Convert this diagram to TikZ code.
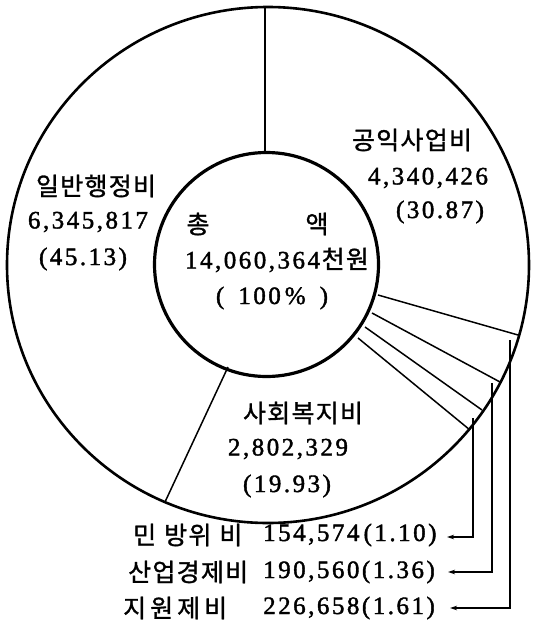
\documentclass[tikz,border=0pt]{standalone}
\usepackage{fontspec}
\setmainfont{Liberation Serif}
\newfontfamily\kr[LetterSpace=5,FakeBold=1.2]{Noto Sans CJK KR}
\newfontfamily\num[LetterSpace=10,FakeBold=1.6]{Liberation Serif}
\usetikzlibrary{arrows.meta}
\begin{document}
\begin{tikzpicture}[x=1pt,y=-1pt,
  seg/.style={line width=1.5pt},
  lead/.style={line width=1.5pt,-{Stealth[length=7pt,width=4.5pt]}},
  krt/.style={inner sep=0pt,font=\fontsize{25}{28}\selectfont\kr},
  numt/.style={inner sep=0pt,font=\fontsize{25}{28}\selectfont\num}]
\useasboundingbox (0,0) rectangle (534,632);
% circles
\draw[line width=2.6pt] (268,265) ellipse [x radius=261, y radius=258];
\draw[line width=3.2pt] (266.5,264.5) circle [radius=112];
% segment boundaries
\draw[seg] (265,7) -- (265,152.5);
\draw[seg] (378,295) -- (518,335);
\draw[seg] (372,313) -- (500,382);
\draw[seg] (365,327) -- (482,410);
\draw[seg] (358,338) -- (470,430);
\draw[seg] (228,367) -- (165,502);
% labels
\node[krt] (g1) at (412,140) {공익사업비};
\node[numt] (g2) at (428,178) {4,340,426};
\node[numt] (g3) at (440,212) {(30.87)};
\node[krt] (i1) at (96,186) {일반행정비};
\node[numt] (i2) at (88,222) {6,345,817};
\node[numt] (i3) at (83,259) {(45.13)};
\node[krt] (c1) at (198,224) {총};
\node[krt] (c2) at (317,224) {액};
\node[inner sep=0pt] (c3) at (277,260) {{\fontsize{25}{28}\selectfont\num 14,060,364}\,{\fontsize{25}{28}\selectfont\kr 천원}};
\node[numt] (c4) at (272,298) {(\hspace{14pt}100\hspace{4pt}\%\hspace{14pt})};
\node[krt] (s1) at (303,413) {사회복지비};
\node[numt] (s2) at (288,449) {2,802,329};
\node[numt] (s3) at (287,486) {(19.93)};
% bottom list
\node[krt,anchor=west] (m1) at (133,535) {민\hspace{8pt}방위\hspace{8pt}비};
\node[numt,anchor=west] (m2) at (263,535) {154,574\,(1.10)};
\node[krt,anchor=west] (n1) at (128,572) {산업경제비};
\node[numt,anchor=west] (n2) at (263,572) {190,560(1.36)};
\node[krt,anchor=west] (o1) at (123,608) {지\hspace{4pt}원\hspace{4pt}제\hspace{4pt}비};
\node[numt,anchor=west] (o2) at (263,608) {226,658(1.61)};
% leaders
\coordinate (p1) at (473,418);
\coordinate (p2) at (492,383);
\coordinate (p3) at (510,340);
\coordinate (q1) at (447,537);
\coordinate (q2) at (448,572);
\coordinate (q3) at (450,608);
\draw[lead] (p1) |- (q1);
\draw[lead] (p2) |- (q2);
\draw[lead] (p3) |- (q3);
\end{tikzpicture}
\end{document}
